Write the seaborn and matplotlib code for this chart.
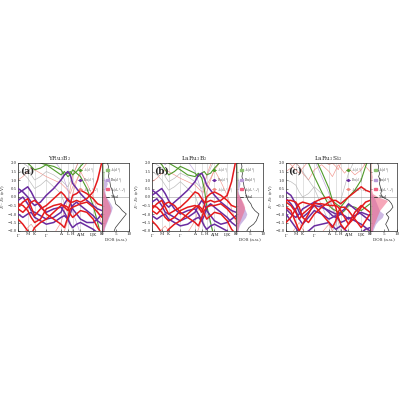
import numpy as np
import pandas as pd
import matplotlib
matplotlib.use("Agg")
import matplotlib.pyplot as plt
import seaborn as sns
from matplotlib.lines import Line2D
from matplotlib.patches import Patch

# ---------------- data ----------------
TITLES = ["YRu$_3$B$_2$", "LaRu$_3$B$_2$", "LaRu$_3$Si$_2$"]
PANEL_LABELS = ["(a)", "(b)", "(c)"]
HS_POS = [0.0, 0.116, 0.198, 0.337, 0.512, 0.593, 0.651, 0.744, 0.895, 1.0]
HS_LABELS = ["$\\Gamma$", "M", "K", "$\\Gamma$", "A", "L", "H", "A|M", "L|K", "H"]
K_PTS = [0.0, 0.058, 0.116, 0.157, 0.198, 0.2675, 0.337, 0.4245, 0.512, 0.5525,
         0.593, 0.622, 0.651, 0.6975, 0.744, 0.8195, 0.895, 0.9475, 1.0]

# panel (a) YRu3B2
red_a1 = [-0.6, -0.3, -0.1, -0.6, -1.1, -0.7, -0.5, -0.1, 0.3, 0.1, -0.2, -0.3, -0.3, -0.2, -0.3, -0.1, 0.3, 1.0, 2.1]
red_a2 = [-0.7, -0.9, -0.6, -0.3, -0.2, -0.5, -1.0, -1.3, -1.6, -1.8, -1.2, -0.7, -0.6, -0.5, -0.4, -0.3, -0.6, -0.9, -1.2]
red_a3 = [-1.3, -1.6, -2.0, -2.2, -1.8, -1.5, -1.3, -0.9, -0.5, -0.5, -0.6, -1.0, -1.2, -1.0, -0.8, -0.9, -1.3, -1.8, -2.2]
red_a4 = [-0.4, -0.5, -0.8, -1.2, -1.5, -1.3, -0.7, -0.5, -0.4, -0.6, -0.8, -0.4, 0.1, 0.2, 0.4, 0.2, -0.1, -0.4, -0.5]
pur_a1 = [0.5, 0.3, 0.0, -0.3, -0.5, -0.3, 0.1, 0.5, 1.0, 1.3, 1.5, 1.3, 0.8, 0.5, 0.2, -0.2, -0.5, -0.7, -0.8]
pur_a2 = [-0.2, 0.0, -0.4, -0.8, -0.9, -1.1, -1.3, -1.2, -0.9, -0.4, -0.1, -0.3, -0.7, -1.0, -1.3, -1.5, -1.5, -1.3, -1.0]
pur_a3 = [-1.0, -1.2, -1.0, -0.9, -1.2, -1.4, -1.6, -1.5, -1.2, -1.1, -1.3, -1.6, -1.8, -1.6, -1.5, -1.7, -1.9, -2.1, -2.2]
pur_a4 = [0.2, 0.4, 0.6, 0.3, -0.1, -0.6, -0.9, -0.7, -0.6, -0.9, -1.3, -1.0, -0.5, -0.3, -0.5, -0.8, -1.1, -1.4, -1.6]
grn_a1 = [2.5, 2.2, 2.0, 1.8, 1.6, 1.7, 1.9, 1.8, 1.6, 1.3, 1.4, 1.5, 1.3, 1.5, 1.8, 2.2, 2.5, 2.6, 2.6]
grn_a2 = [2.6, 2.5, 2.4, 2.2, 2.1, 2.0, 1.9, 1.6, 1.3, 1.5, 1.2, 1.3, 1.6, 1.4, 1.2, 0.5, -0.5, -1.5, -2.5]
thin_a1 = [1.0, 1.2, 1.5, 1.7, 1.6, 1.4, 1.2, 1.0, 0.8, 0.6, 0.4, 0.2, 0.6, 1.0, 1.5, 2.0, 2.5, 2.8, 3.0]
thin_a2 = [1.6, 1.4, 1.1, 0.8, 0.5, 0.7, 1.0, 0.6, 0.2, -0.4, -1.0, -1.5, -2.0, -2.4, -2.6, -2.6, -2.6, -2.6, -2.6]
thin_a3 = [2.2, 2.0, 1.8, 1.3, 1.0, 1.2, 1.5, 1.3, 1.0, 0.8, 0.6, 0.9, 1.3, 1.8, 2.3, 2.5, 2.6, 2.6, 2.6]
thin_a4 = [-2.5, -2.2, -1.8, -1.6, -1.9, -2.3, -2.6, -2.2, -1.5, -0.8, -0.2, 0.5, 1.2, 1.8, 2.4, 2.8, 2.9, 2.9, 2.9]
thin_a5 = [-2.4, -2.1, -2.3, -2.5, -2.5, -2.4, -2.3, -2.4, -2.5, -2.0, -1.4, -0.6, 0.2, 0.9, 1.5, 0.8, 0.0, -0.8, -1.6]
thin_a6 = [2.5, 2.3, 2.1, 2.0, 2.2, 2.4, 2.5, 2.2, 1.6, 1.0, 0.4, -0.2, -0.9, -1.5, -2.2, -2.6, -2.6, -2.6, -2.6]

# panel (b) LaRu3B2
red_b1 = [-0.7, -0.4, -0.2, -0.6, -1.0, -0.8, -0.6, -0.2, 0.3, 0.2, -0.1, -0.3, -0.3, -0.2, -0.3, -0.2, 0.1, 0.9, 2.2]
red_b2 = [-0.8, -1.0, -0.7, -0.4, -0.3, -0.5, -0.9, -1.2, -1.5, -1.7, -1.2, -0.8, -0.6, -0.5, -0.5, -0.4, -0.7, -1.0, -1.3]
red_b3 = [-1.4, -1.7, -2.1, -2.2, -1.9, -1.6, -1.4, -1.0, -0.6, -0.5, -0.7, -1.0, -1.3, -1.1, -0.9, -1.0, -1.4, -1.9, -2.2]
red_b4 = [-0.5, -0.6, -0.9, -1.2, -1.4, -1.2, -0.8, -0.6, -0.5, -0.6, -0.9, -0.5, 0.0, 0.2, 0.3, 0.1, -0.2, -0.5, -0.6]
pur_b1 = [0.4, 0.2, -0.1, -0.4, -0.6, -0.3, 0.0, 0.4, 0.9, 1.3, 1.4, 1.1, 0.7, 0.4, 0.1, -0.3, -0.6, -0.8, -0.9]
pur_b2 = [-0.3, -0.1, -0.5, -0.9, -1.0, -1.2, -1.4, -1.2, -0.9, -0.5, -0.2, -0.4, -0.8, -1.1, -1.4, -1.6, -1.5, -1.3, -1.1]
pur_b3 = [-1.1, -1.3, -1.1, -1.0, -1.3, -1.5, -1.7, -1.6, -1.3, -1.2, -1.4, -1.7, -1.9, -1.7, -1.6, -1.8, -2.0, -2.2, -2.3]
pur_b4 = [0.1, 0.3, 0.5, 0.2, -0.2, -0.7, -1.0, -0.8, -0.7, -1.0, -1.4, -1.1, -0.6, -0.4, -0.6, -0.9, -1.2, -1.5, -1.7]
grn_b1 = [2.5, 2.2, 1.9, 1.6, 1.3, 1.5, 1.8, 1.6, 1.4, 1.2, 1.4, 1.5, 1.3, 1.4, 1.7, 2.1, 2.5, 2.6, 2.6]
grn_b2 = [2.6, 2.5, 2.4, 2.2, 2.0, 1.8, 1.6, 1.3, 1.2, 1.4, 1.1, 0.5, -0.5, -1.5, -2.5, -2.6, -2.6, -2.6, -2.6]
thin_b1 = [0.9, 1.1, 1.4, 1.6, 1.5, 1.3, 1.1, 0.9, 0.7, 0.5, 0.3, 0.3, 0.7, 1.1, 1.6, 2.1, 2.5, 2.8, 3.0]
thin_b2 = [1.5, 1.3, 1.0, 0.7, 0.4, 0.6, 0.9, 0.5, 0.1, -0.5, -1.1, -1.6, -2.1, -2.5, -2.6, -2.6, -2.6, -2.6, -2.6]
thin_b3 = [2.1, 1.9, 1.7, 1.2, 0.9, 1.1, 1.4, 1.2, 0.9, 0.7, 0.5, 0.8, 1.2, 1.7, 2.2, 2.5, 2.6, 2.6, 2.6]
thin_b4 = [-2.5, -2.3, -1.9, -1.7, -2.0, -2.4, -2.6, -2.1, -1.4, -0.7, -0.1, 0.6, 1.3, 1.9, 2.5, 2.8, 2.9, 2.9, 2.9]
thin_b5 = [-2.4, -2.2, -2.4, -2.5, -2.5, -2.4, -2.2, -2.3, -2.4, -1.9, -1.3, -0.5, 0.3, 1.0, 1.6, 0.9, 0.1, -0.7, -1.5]
thin_b6 = [2.5, 2.3, 2.1, 1.9, 2.1, 2.3, 2.4, 2.1, 1.5, 0.9, 0.3, -0.3, -1.0, -1.6, -2.3, -2.6, -2.6, -2.6, -2.6]

# panel (c) LaRu3Si2
red_c1 = [-0.2, -0.2, -0.3, -0.6, -1.2, -1.5, -1.0, -0.6, -0.3, -0.2, -0.2, -0.3, -0.4, -0.2, 0.0, 0.3, 0.6, 0.4, 0.3]
red_c2 = [-0.3, -0.5, -0.9, -1.3, -1.0, -0.7, -0.4, -0.4, -0.5, -0.5, -0.5, -0.6, -0.8, -1.2, -1.6, -1.2, -0.6, -0.3, -0.2]
red_c3 = [-1.5, -1.2, -0.7, -0.4, -0.3, -0.4, -0.5, -1.0, -1.5, -1.8, -1.4, -0.9, -0.6, -0.6, -0.8, -1.3, -1.8, -1.4, -1.0]
red_c4 = [-0.6, -0.8, -1.5, -2.0, -1.6, -1.0, -0.3, -0.1, 0.0, -0.2, -0.6, -1.2, -1.6, -1.9, -1.6, -0.9, -0.5, -0.7, -0.9]
pur_c1 = [0.3, 0.1, -0.4, -0.9, -1.2, -0.9, -0.5, -0.6, -0.8, -0.9, -1.0, -1.0, -0.9, -0.7, -0.4, -0.7, -1.0, -1.2, -1.4]
pur_c2 = [-0.1, -0.4, -0.8, -1.3, -1.6, -1.2, -0.8, -1.0, -1.3, -1.2, -1.1, -1.3, -1.5, -1.4, -1.2, -1.4, -1.6, -1.8, -2.0]
pur_c3 = [-1.0, -1.4, -1.8, -2.1, -2.2, -2.0, -1.7, -1.6, -1.5, -1.7, -1.9, -1.8, -1.7, -1.9, -2.1, -2.2, -2.1, -1.9, -1.8]
pur_c4 = [-0.7, -1.0, -1.2, -1.0, -0.7, -0.5, -0.3, -0.5, -0.9, -1.1, -1.2, -1.1, -1.0, -1.1, -1.3, -1.1, -0.9, -1.0, -1.1]
grn_c1 = [2.6, 2.6, 2.5, 2.4, 2.3, 2.0, 1.2, 0.3, -0.5, -0.7, -0.8, -0.9, -1.0, -0.8, -0.5, -0.6, -0.8, -0.6, -0.4]
grn_c2 = [2.6, 2.6, 2.6, 2.6, 2.6, 2.6, 2.4, 1.5, 0.5, -0.2, -0.4, -0.5, -0.6, -0.3, 0.0, 0.4, 1.0, 1.8, 2.5]
thin_c1 = [1.5, 1.7, 2.0, 1.8, 1.4, 1.0, 1.6, 1.9, 1.5, 1.2, 1.6, 1.9, 1.7, 1.4, 1.7, 1.3, 1.6, 2.0, 2.2]
thin_c2 = [1.0, 0.9, 0.7, 0.3, 0.0, 0.2, 0.6, 0.2, -0.2, -0.6, -1.0, -1.5, -2.0, -2.5, -2.6, -2.6, -2.6, -2.6, -2.6]
thin_c3 = [2.3, 2.2, 2.0, 1.8, 1.5, 1.0, 0.5, -0.5, -1.5, -2.0, -1.6, -1.0, -0.2, 0.6, 1.4, 2.2, 2.6, 2.6, 2.6]
thin_c4 = [-2.5, -2.2, -1.8, -1.5, -1.9, -2.4, -2.6, -2.1, -1.6, -2.0, -2.4, -2.6, -2.3, -1.9, -2.3, -2.6, -2.2, -1.8, -2.2]
thin_c5 = [2.1, 1.9, 1.6, 1.4, 1.7, 2.1, 2.4, 2.2, 1.9, 2.0, 1.8, 1.6, 2.0, 2.3, 2.5, 2.4, 2.2, 1.8, 1.5]
thin_c6 = [2.6, 2.4, 2.2, 2.3, 2.5, 2.6, 2.2, 1.2, 0.2, -0.6, -1.4, -2.0, -2.6, -2.6, -2.6, -2.6, -2.6, -2.6, -2.6]

# DOS (energy grid from -2 to 2 eV)
DOS_E = [-2.0, -1.8, -1.6, -1.4, -1.2, -1.0, -0.8, -0.6, -0.4, -0.2, 0.0,
         0.2, 0.4, 0.6, 0.8, 1.0, 1.2, 1.4, 1.6, 1.8, 2.0]
tot_a = [4.5, 5.0, 6.0, 7.0, 8.0, 9.0, 7.5, 6.5, 5.0, 4.8, 4.4, 4.0, 3.8, 3.2, 3.0, 2.8, 2.4, 2.6, 2.2, 2.4, 2.0]
pdos_pur_a = [0.8, 1.0, 1.5, 2.0, 2.5, 3.0, 3.5, 3.8, 3.2, 2.5, 1.5, 1.2, 1.0, 1.5, 2.0, 1.2, 0.6, 0.5, 0.3, 0.3, 0.2]
pdos_red_a = [0.5, 0.8, 1.2, 1.8, 2.2, 2.8, 3.2, 3.0, 2.6, 2.0, 1.5, 1.0, 0.6, 0.5, 0.4, 0.3, 0.2, 0.2, 0.2, 0.1, 0.1]
pdos_grn_a = [0.1, 0.1, 0.2, 0.2, 0.3, 0.3, 0.3, 0.3, 0.2, 0.2, 0.2, 0.3, 0.4, 0.5, 0.6, 0.5, 0.7, 0.8, 0.6, 0.5, 0.4]
tot_b = [4.0, 4.8, 6.5, 7.5, 8.0, 8.5, 7.0, 6.0, 5.5, 4.5, 4.0, 3.6, 3.5, 3.0, 2.8, 2.5, 2.2, 2.4, 2.0, 2.2, 2.0]
pdos_pur_b = [0.8, 1.0, 1.5, 2.5, 3.5, 4.0, 3.5, 3.0, 2.5, 2.0, 1.5, 1.0, 0.8, 1.2, 1.5, 1.0, 0.5, 0.4, 0.3, 0.3, 0.2]
pdos_red_b = [0.5, 0.8, 1.0, 1.5, 2.0, 2.5, 3.0, 3.2, 2.8, 2.2, 1.5, 0.8, 0.5, 0.4, 0.3, 0.3, 0.2, 0.2, 0.2, 0.1, 0.1]
pdos_grn_b = [0.1, 0.2, 0.2, 0.3, 0.3, 0.3, 0.3, 0.3, 0.2, 0.2, 0.2, 0.3, 0.4, 0.5, 0.6, 0.6, 0.7, 0.7, 0.6, 0.5, 0.4]
tot_c = [7.0, 6.5, 5.8, 6.5, 7.0, 6.0, 7.5, 8.5, 8.0, 7.0, 4.5, 4.0, 4.3, 3.8, 3.5, 3.8, 3.2, 3.6, 3.0, 3.2, 2.8]
pdos_pur_c = [1.0, 1.5, 2.0, 3.0, 4.5, 5.0, 3.5, 3.0, 2.5, 2.0, 1.5, 0.5, 0.3, 0.3, 0.2, 0.2, 0.2, 0.2, 0.2, 0.2, 0.2]
pdos_red_c = [0.8, 1.0, 1.5, 2.0, 2.5, 3.0, 3.5, 4.5, 5.5, 6.5, 3.0, 1.0, 0.6, 0.5, 0.5, 0.6, 0.8, 0.6, 0.5, 0.4, 0.4]
pdos_grn_c = [0.2, 0.2, 0.3, 0.4, 0.5, 0.5, 0.6, 0.5, 0.4, 0.3, 0.2, 0.2, 0.2, 0.3, 0.3, 0.3, 0.3, 0.3, 0.3, 0.3, 0.3]

LEG_LABELS = ["$A_f(d_{z^2})$", "$\\mathrm{Ru}(d_{z^2})$", "$A_f(d_{x^2-y^2})$", "Total"]

# ---------------- style ----------------
sns.set_style("ticks")
plt.rcParams["font.family"] = ["DejaVu Serif"]
plt.rcParams["mathtext.fontset"] = "cm"
plt.rcParams["xtick.direction"] = "in"
plt.rcParams["ytick.direction"] = "in"

RED = "#e41a1c"
PUR = "#6a2ca0"
GRN = "#4f9a2a"
PINK = "#f08a80"
GRAY = "#b0b0b0"
LPUR = "#b89ad8"
THIN_COLORS = [PINK, GRAY, GRAY, PINK, PINK, LPUR]

panels = [
    dict(red=[red_a1, red_a2, red_a3, red_a4], pur=[pur_a1, pur_a2, pur_a3, pur_a4],
         grn=[grn_a1, grn_a2], thin=[thin_a1, thin_a2, thin_a3, thin_a4, thin_a5, thin_a6],
         tot=tot_a, dp=pdos_pur_a, dr=pdos_red_a, dg=pdos_grn_a),
    dict(red=[red_b1, red_b2, red_b3, red_b4], pur=[pur_b1, pur_b2, pur_b3, pur_b4],
         grn=[grn_b1, grn_b2], thin=[thin_b1, thin_b2, thin_b3, thin_b4, thin_b5, thin_b6],
         tot=tot_b, dp=pdos_pur_b, dr=pdos_red_b, dg=pdos_grn_b),
    dict(red=[red_c1, red_c2, red_c3, red_c4], pur=[pur_c1, pur_c2, pur_c3, pur_c4],
         grn=[grn_c1, grn_c2], thin=[thin_c1, thin_c2, thin_c3, thin_c4, thin_c5, thin_c6],
         tot=tot_c, dp=pdos_pur_c, dr=pdos_red_c, dg=pdos_grn_c),
]

fig = plt.figure(figsize=(4, 4), dpi=100)
W, H = 400.0, 400.0
lefts = [18, 152, 286]
band_w, dos_w = 84, 27
top_px, bot_px = 163, 231
FS = 3.0


def line(ax, y, color, lw, alpha=1.0, z=2):
    sns.lineplot(x=K_PTS, y=y, ax=ax, color=color, lw=lw, alpha=alpha,
                 sort=False, estimator=None, zorder=z, legend=False)


for i, p in enumerate(panels):
    l = lefts[i]
    axb = fig.add_axes([l / W, 1 - bot_px / H, band_w / W, (bot_px - top_px) / H])
    axd = fig.add_axes([(l + band_w) / W, 1 - bot_px / H, dos_w / W, (bot_px - top_px) / H])

    for x in HS_POS:
        axb.axvline(x, color="#cccccc", lw=0.4, zorder=0)
    axb.axhline(0, color="#999999", lw=0.4, zorder=0)

    for j, y in enumerate(p["thin"]):
        line(axb, y, THIN_COLORS[j], 0.45, 0.9, 1)
    for y in p["grn"]:
        line(axb, y, GRN, 0.8, 1.0, 2)
    for y in p["pur"]:
        line(axb, y, PUR, 1.1, 1.0, 3)
    for y in p["red"]:
        line(axb, y, RED, 1.1, 1.0, 4)

    axb.set_xlim(0, 1)
    axb.set_ylim(-2, 2)
    axb.set_xticks(HS_POS)
    axb.set_xticklabels(HS_LABELS)
    axb.set_yticks([2.0, 1.5, 1.0, 0.5, 0.0, -0.5, -1.0, -1.5, -2.0])
    axb.set_yticklabels(["2.0", "1.5", "1.0", "0.5", "0.0", "\u22120.5", "\u22121.0", "\u22121.5", "\u22122.0"])
    axb.tick_params(labelsize=FS, length=1.2, width=0.4, pad=1)
    axb.tick_params(axis="y", labelsize=2.7, pad=0.8)
    axb.set_ylabel("$E-E_{\\mathrm{F}}$ (eV)", fontsize=FS, va="center")
    axb.yaxis.set_label_coords(-14.5 / band_w, 0.5)
    axb.set_xlabel("")
    axb.set_title(TITLES[i], fontsize=4.2, pad=1.5)
    axb.text(0.03, 0.95, PANEL_LABELS[i], transform=axb.transAxes, fontsize=6.5,
             fontweight="bold", va="top", ha="left", zorder=10)
    for s in axb.spines.values():
        s.set_linewidth(0.5)

    hb = [Line2D([], [], color=c, lw=0.6, marker="o", ms=1.2) for c in [GRN, PUR, PINK]]
    lg = axb.legend(hb, LEG_LABELS[:3], loc="upper right", fontsize=2.3, frameon=False,
                    handlelength=1.0, borderpad=0.2, labelspacing=0.3, handletextpad=0.4)
    for t in lg.get_texts():
        t.set_color("#555555")

    # DOS
    axd.axhline(0, color="#999999", lw=0.4, zorder=0)
    axd.fill_betweenx(DOS_E, 0, p["dp"], color=LPUR, alpha=0.7, lw=0, zorder=1)
    axd.fill_betweenx(DOS_E, 0, p["dr"], color="#f06080", alpha=0.55, lw=0, zorder=2)
    axd.fill_betweenx(DOS_E, 0, p["dg"], color="#8cc070", alpha=0.6, lw=0, zorder=2)
    sns.lineplot(x=p["tot"], y=DOS_E, ax=axd, color="#333333", lw=0.5, sort=False,
                 estimator=None, orient="y", zorder=3, legend=False)
    axd.set_xlim(0, 10)
    axd.set_ylim(-2, 2)
    axd.set_xticks([0, 5, 10])
    axd.set_yticks([2.0, 1.5, 1.0, 0.5, 0.0, -0.5, -1.0, -1.5, -2.0])
    axd.set_yticklabels([])
    axd.tick_params(labelsize=FS, length=1.2, width=0.4, pad=1)
    axd.set_xlabel("DOS (a.u.)", fontsize=FS, labelpad=1)
    axd.set_ylabel("")
    for s in axd.spines.values():
        s.set_linewidth(0.5)
    hd = [Patch(color="#8cc070"), Patch(color=LPUR), Patch(color="#f06080"),
          Line2D([], [], color="#333333", lw=0.6)]
    axd.legend(hd, LEG_LABELS, loc="upper right", fontsize=2.3, frameon=False,
               handlelength=0.8, handleheight=0.6, borderpad=0.2, labelspacing=0.3,
               handletextpad=0.4)

fig.savefig("out.png", dpi=100)
